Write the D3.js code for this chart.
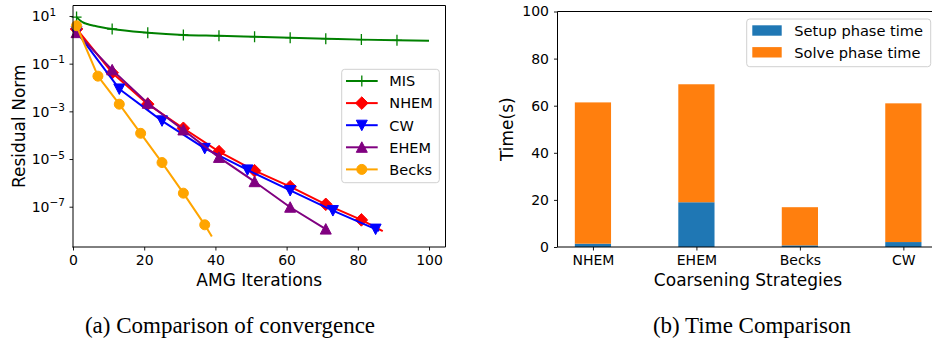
<!DOCTYPE html>
<html>
<head>
<meta charset="utf-8">
<script src="https://cdn.jsdelivr.net/npm/d3@7"></script>
<style>
  body { margin: 0; background: #fff; }
  svg { display: block; }
  text { font-family: "DejaVu Sans", sans-serif; fill: #000; }
</style>
</head>
<body>
<svg id="fig" width="932" height="345"></svg>
<script>
// ---- Convergence history (AMG iteration -> residual norm) ----
const misIter = [1, 2, 3, 4, 6, 8, 11, 21, 31, 41, 51, 61, 71, 81, 91, 100];
const misRes  = [9.0, 6.5, 5.2, 4.6, 3.9, 3.4, 2.85, 2.0, 1.6, 1.48, 1.35, 1.23, 1.12, 1.02, 0.95, 0.92];
const misMarks = [1, 11, 21, 31, 41, 51, 61, 71, 81, 91];

const nhemIter = [1, 11, 21, 31, 41, 51, 61, 71, 81, 87];
const nhemRes  = [2.85, 4.17e-2, 2.0e-3, 1.95e-4, 2.04e-5, 3.24e-6, 6.9e-7, 1.26e-7, 2.8e-8, 9.5e-9];
const nhemMarks = [1, 11, 21, 31, 41, 51, 61, 71, 81];

const cwIter = [1, 13, 25, 37, 49, 61, 73, 85, 86];
const cwRes  = [2.2, 8.7e-3, 4.0e-4, 2.8e-5, 3.5e-6, 4.8e-7, 6.9e-8, 1.15e-8, 9.8e-9];
const cwMarks = [1, 13, 25, 37, 49, 61, 73, 85];

const ehemIter = [1, 11, 21, 31, 41, 51, 61, 71];
const ehemRes  = [2.0, 5.5e-2, 2.19e-3, 1.66e-4, 1.17e-5, 1.12e-6, 9.5e-8, 1.15e-8];
const ehemMarks = [1, 11, 21, 31, 41, 51, 61, 71];

const becksIter = [1, 7, 13, 19, 25, 31, 37, 39];
const becksRes  = [3.9, 3.0e-2, 2.0e-3, 1.2e-4, 7.1e-6, 3.7e-7, 1.74e-8, 5.6e-9];
const becksMarks = [1, 7, 13, 19, 25, 31, 37];

const iterTicks = [0, 20, 40, 60, 80, 100];
const residualTickExps = [1, -1, -3, -5, -7];

// ---- Timing per coarsening strategy (seconds) ----
const strategies = ["NHEM", "EHEM", "Becks", "CW"];
const setupTime = [1.4, 19.0, 0.7, 2.1];
const solveTime = [60.0, 50.1, 16.2, 58.9];
const timeTicks = [0, 20, 40, 60, 80, 100];
const phaseNames = ["Setup phase time", "Solve phase time"];

const svg = d3.select("#fig");

// Marker shapes
const markerPath = {
  plus: "M-5,0H5M0,-5.5V5.5",
  diamond: "M0,-6.3L6.3,0L0,6.3L-6.3,0Z",
  tdown: "M-5.5,-5L5.5,-5L0,5.5Z",
  tup: "M0,-5.5L5.5,5L-5.5,5Z",
  circle: d3.symbol().type(d3.symbolCircle).size(Math.PI * 25)()
};

const seriesList = [
  { name: "MIS",   iter: misIter,   res: misRes,   marks: misMarks,   color: "#008000", shape: "plus" },
  { name: "NHEM",  iter: nhemIter,  res: nhemRes,  marks: nhemMarks,  color: "#ff0000", shape: "diamond" },
  { name: "CW",    iter: cwIter,    res: cwRes,    marks: cwMarks,    color: "#0000ff", shape: "tdown" },
  { name: "EHEM",  iter: ehemIter,  res: ehemRes,  marks: ehemMarks,  color: "#800080", shape: "tup" },
  { name: "Becks", iter: becksIter, res: becksRes, marks: becksMarks, color: "#ffa500", shape: "circle" }
];

function drawMarker(g, shape, color, x, y) {
  const p = g.append("path")
    .attr("d", markerPath[shape])
    .attr("transform", `translate(${x},${y})`);
  if (shape === "plus") {
    p.attr("fill", "none").attr("stroke", color).attr("stroke-width", 1.3);
  } else {
    p.attr("fill", color).attr("stroke", color).attr("stroke-width", 1);
  }
}

// ================= Left panel: convergence =================
const L = { left: 73, right: 445.5, top: 5.5, bottom: 247 };
const x1 = d3.scaleLinear().domain([0, 104.63]).range([L.left, L.right]);
const y1 = d3.scaleLog().domain([Math.pow(10, -8.69), Math.pow(10, 1.44)]).range([L.bottom, L.top]);

const left = svg.append("g");
const plot1 = left.append("g");

seriesList.forEach(s => {
  const pts = s.iter.map((it, i) => [it, s.res[i]]);
  const line = d3.line()
    .x(d => x1(d[0]))
    .y(d => y1(d[1]))
    .curve(s.name === "MIS" ? d3.curveMonotoneX : d3.curveLinear);
  plot1.append("path")
    .attr("d", line(pts))
    .attr("fill", "none")
    .attr("stroke", s.color)
    .attr("stroke-width", 2)
    .attr("stroke-linejoin", "round");
  const mg = plot1.append("g");
  s.marks.forEach(m => {
    const i = s.iter.indexOf(m);
    drawMarker(mg, s.shape, s.color, x1(m), y1(s.res[i]));
  });
});

// Spines
left.append("line").attr("x1", L.left).attr("x2", L.right).attr("y1", L.top).attr("y2", L.top).attr("stroke", "#000").attr("stroke-width", 1);
left.append("line").attr("x1", L.right).attr("x2", L.right).attr("y1", L.top).attr("y2", L.bottom).attr("stroke", "#000").attr("stroke-width", 1);
left.append("line").attr("x1", L.left).attr("x2", L.left).attr("y1", L.top).attr("y2", L.bottom + 0.5).attr("stroke", "#000").attr("stroke-width", 1);
left.append("line").attr("x1", L.left - 0.5).attr("x2", L.right).attr("y1", L.bottom).attr("y2", L.bottom).attr("stroke", "#000").attr("stroke-width", 1);

// X axis
const xAxis1 = d3.axisBottom(x1).tickValues(iterTicks).tickSize(3.5).tickPadding(4.5).tickFormat(d3.format("d"));
const gx1 = left.append("g").attr("transform", `translate(0,${L.bottom})`).call(xAxis1);
gx1.select(".domain").remove();
gx1.selectAll("text").style("font-size", "14px").style("font-family", "DejaVu Sans");
gx1.selectAll("line").attr("stroke", "#000").attr("stroke-width", 0.9);

// Y axis (log, labelled every second decade)
const yTickVals = residualTickExps.map(e => Math.pow(10, e));
const gy1 = left.append("g").attr("transform", `translate(${L.left},0)`)
  .call(d3.axisLeft(y1).tickValues(yTickVals).tickSize(3.5).tickFormat(""));
gy1.select(".domain").remove();
gy1.selectAll("line").attr("stroke", "#000").attr("stroke-width", 0.9);
residualTickExps.forEach(e => {
  const t = left.append("text")
    .attr("x", 31.7)
    .attr("y", y1(Math.pow(10, e)) + 5.2)
    .style("font-size", "14px");
  t.append("tspan").text("10");
  t.append("tspan").attr("dy", -5.5).style("font-size", "10.5px")
    .text(e < 0 ? "\u2212" + Math.abs(e) : String(e));
});

left.append("text").attr("x", (L.left + L.right) / 2).attr("y", 285.7)
  .attr("text-anchor", "middle").style("font-size", "17px").text("AMG Iterations");
left.append("text").attr("transform", `translate(25,${(L.top + L.bottom) / 2}) rotate(-90)`)
  .attr("text-anchor", "middle").style("font-size", "17px").text("Residual Norm");

// Legend
const lg1 = left.append("g");
lg1.append("rect").attr("x", 341.7).attr("y", 69.3).attr("width", 97.6).attr("height", 113.4)
  .attr("rx", 3).attr("fill", "#fff").attr("fill-opacity", 0.8).attr("stroke", "#d0d0d0").attr("stroke-width", 1);
seriesList.forEach((s, i) => {
  const cy = 81 + i * 22.1;
  lg1.append("line").attr("x1", 346).attr("x2", 377.7).attr("y1", cy).attr("y2", cy)
    .attr("stroke", s.color).attr("stroke-width", 2);
  drawMarker(lg1, s.shape, s.color, 361.8, cy);
  lg1.append("text").attr("x", 389.3).attr("y", cy + 5.3).style("font-size", "14.5px").text(s.name);
});

// ================= Right panel: timing =================
const R = { left: 557.5, right: 938.8, top: 11.5, bottom: 247 };
const x2 = d3.scaleLinear().domain([-0.3425, 3.3425]).range([R.left, R.right]);
const y2 = d3.scaleLinear().domain([0, 100]).range([R.bottom, R.top]);
const barW = 0.35;
const barColors = ["#1f77b4", "#ff7f0e"];

const right = svg.append("g");
const stackData = strategies.map((s, i) => ({ key: s, setup: setupTime[i], solve: solveTime[i] }));
const stacked = d3.stack().keys(["setup", "solve"])(stackData);
stacked.forEach((layer, li) => {
  right.append("g").attr("fill", barColors[li]).selectAll("rect")
    .data(layer).join("rect")
    .attr("x", (d, i) => x2(i - barW / 2))
    .attr("width", (d, i) => x2(i + barW / 2) - x2(i - barW / 2))
    .attr("y", d => y2(d[1]))
    .attr("height", d => y2(d[0]) - y2(d[1]));
});

right.append("line").attr("x1", R.left).attr("x2", R.right).attr("y1", R.top).attr("y2", R.top).attr("stroke", "#000").attr("stroke-width", 1);
right.append("line").attr("x1", R.left).attr("x2", R.left).attr("y1", R.top).attr("y2", R.bottom).attr("stroke", "#000").attr("stroke-width", 1);
right.append("line").attr("x1", R.left).attr("x2", R.right).attr("y1", R.bottom).attr("y2", R.bottom).attr("stroke", "#000").attr("stroke-width", 1);

const gx2 = right.append("g").attr("transform", `translate(0,${R.bottom})`)
  .call(d3.axisBottom(x2).tickValues(d3.range(strategies.length)).tickSize(3.5).tickPadding(4.5)
    .tickFormat(i => strategies[i]));
gx2.select(".domain").remove();
gx2.selectAll("text").style("font-size", "14px").style("font-family", "DejaVu Sans");
gx2.selectAll("line").attr("stroke", "#000").attr("stroke-width", 0.9);

const gy2 = right.append("g").attr("transform", `translate(${R.left},0)`)
  .call(d3.axisLeft(y2).tickValues(timeTicks).tickSize(3.5).tickPadding(5).tickFormat(d3.format("d")));
gy2.select(".domain").remove();
gy2.selectAll("text").style("font-size", "14px").style("font-family", "DejaVu Sans");
gy2.selectAll("line").attr("stroke", "#000").attr("stroke-width", 0.9);

right.append("text").attr("x", 748).attr("y", 286).attr("text-anchor", "middle")
  .style("font-size", "17px").text("Coarsening Strategies");
right.append("text").attr("transform", `translate(513,${(R.top + R.bottom) / 2}) rotate(-90)`)
  .attr("text-anchor", "middle").style("font-size", "17px").text("Time(s)");

const lg2 = right.append("g");
lg2.append("rect").attr("x", 746.7).attr("y", 19).attr("width", 184).attr("height", 47.7)
  .attr("rx", 3).attr("fill", "#fff").attr("fill-opacity", 0.8).attr("stroke", "#d0d0d0").attr("stroke-width", 1);
phaseNames.forEach((n, i) => {
  const cy = 30.5 + i * 21.8;
  lg2.append("rect").attr("x", 752.3).attr("y", cy - 5.2).attr("width", 29.4).attr("height", 10.4).attr("fill", barColors[i]);
  lg2.append("text").attr("x", 794.3).attr("y", cy + 5.3).style("font-size", "14.6px").text(n);
});

// ================= Sub-figure captions =================
const captions = [
  { text: "(a) Comparison of convergence", cx: 230 },
  { text: "(b) Time Comparison", cx: 752 }
];
captions.forEach(c => {
  svg.append("text").attr("x", c.cx).attr("y", 333).attr("text-anchor", "middle")
    .style("font-family", "'Liberation Serif', 'DejaVu Serif', serif")
    .style("font-size", "23px").text(c.text);
});
</script>
</body>
</html>
